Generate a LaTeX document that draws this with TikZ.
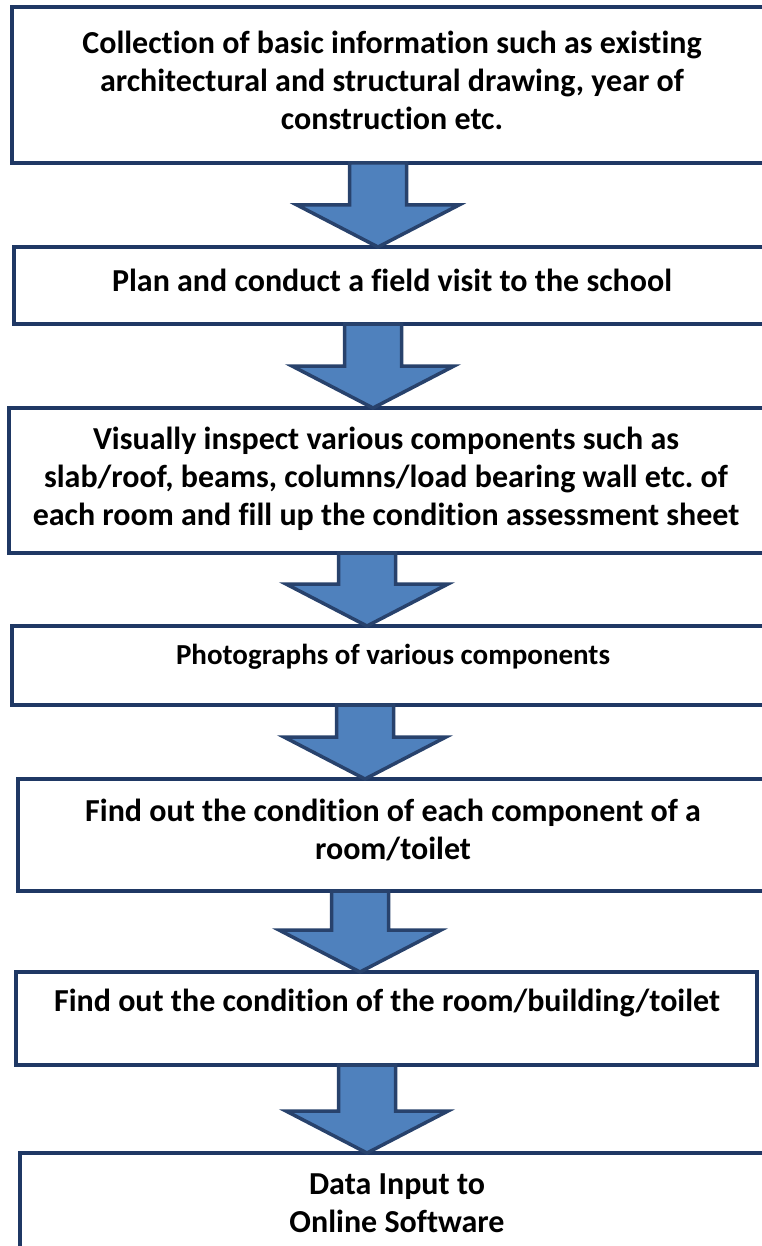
\documentclass[tikz,border=0pt]{standalone}
\usepackage{fontspec}
\setmainfont{Carlito}[Ligatures=NoCommon]
\frenchspacing
\usetikzlibrary{calc}
\definecolor{boxline}{RGB}{31,56,100}
\definecolor{arrowline}{RGB}{40,66,108}
\definecolor{arrowfill}{RGB}{79,129,189}
\tikzset{
  stepbox/.style={draw=boxline, line width=4pt, rectangle, anchor=north west,
    inner sep=0pt, outer sep=0pt},
  steptext/.style={align=center, font=\bfseries\fontsize{32}{38}\selectfont},
  flow/.style={draw=arrowline, fill=arrowfill, line width=3.5pt, line join=miter}
}
% block arrow: x of tip, upper box, lower box
\newcommand{\flowarrow}[3]{%
  \coordinate (ax) at (#1,0);
  \draw[flow] ($(ax |- #2.south)+(-28.5,0)$) -- ($(ax |- #3.north)+(-28.5,-42)$)
    -- ++(-52.5,0) -- (ax |- #3.north) -- ++(81,-42) -- ++(-52.5,0)
    -- ($(ax |- #2.south)+(28.5,0)$) -- cycle;
}
\begin{document}
\begin{tikzpicture}[x=1pt,y=-1pt]
  \useasboundingbox (0,0) rectangle (762,1246);
  \clip (0,0) rectangle (762,1246);
  % boxes
  \node[stepbox, minimum width=773pt, minimum height=156pt] (b1) at (12,7) {};
  \node[stepbox, minimum width=771pt, minimum height=77pt] (b2) at (14,247) {};
  \node[stepbox, minimum width=776pt, minimum height=145pt] (b3) at (9,408) {};
  \node[stepbox, minimum width=773pt, minimum height=79pt] (b4) at (12,626) {};
  \node[stepbox, minimum width=767pt, minimum height=112pt] (b5) at (18,779) {};
  \node[stepbox, minimum width=741pt, minimum height=93pt] (b6) at (16,972) {};
  \node[stepbox, minimum width=765pt, minimum height=120pt] (b7) at (20,1153) {};
  % arrows
  \flowarrow{378}{b1}{b2}
  \flowarrow{373}{b2}{b3}
  \flowarrow{367}{b3}{b4}
  \flowarrow{365}{b4}{b5}
  \flowarrow{360}{b5}{b6}
  \flowarrow{367}{b6}{b7}
  % texts
  \node[steptext] (t1) at (392,80) {Collection of basic information such as existing\\
    architectural and structural drawing, year of\\construction etc.};
  \node[steptext] (t2) at (392,280) {Plan and conduct a field visit to the school};
  \node[steptext] (t3) at (386,479) {Visually inspect various components such as\\
    slab/roof, beams, columns/load bearing wall etc. of\\
    each room and fill up the condition assessment sheet};
  \node[steptext, font=\bfseries\fontsize{29}{35}\selectfont] (t4) at (393,657)
    {Photographs of various components};
  \node[steptext] (t5) at (393,830) {Find out the condition of each component of a\\room/toilet};
  \node[steptext] (t6) at (387,1003) {Find out the condition of the room/building/toilet};
  \node[steptext] (t7) at (397,1203) {Data Input to\\Online Software};
\end{tikzpicture}
\end{document}
